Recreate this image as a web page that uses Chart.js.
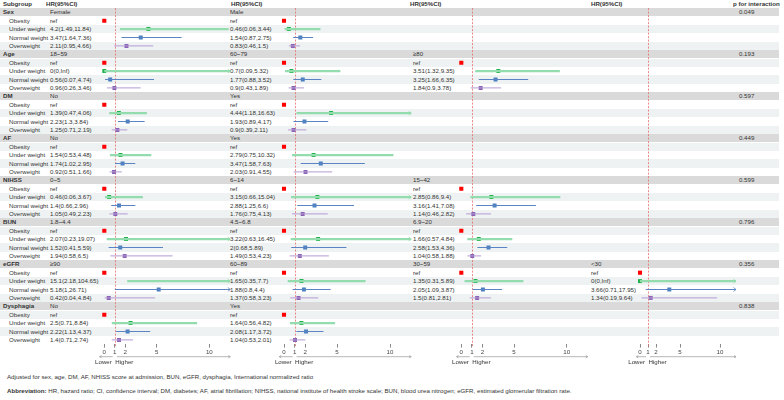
<!DOCTYPE html>
<html>
<head>
<meta charset="utf-8">
<script src="https://cdn.jsdelivr.net/npm/chart.js@4.4.1/dist/chart.umd.min.js"></script>
<style>
  body { margin: 0; width: 784px; height: 400px; position: relative; overflow: hidden; background: #fff;
         font-family: "Liberation Sans", Arial, sans-serif; color: #333; }
  #tbl { position: absolute; left: 0; top: 0; width: 784px; height: 400px; }
  .band { position: absolute; left: 0; width: 779px; height: 8.4px; }
  .t { position: absolute; font-size: 6.15px; line-height: 8px; height: 8px; white-space: nowrap; }
  .b { font-weight: bold; }
  canvas { position: absolute; left: 0; top: 0; pointer-events: none; }
</style>
</head>
<body>
<div id="tbl"></div>
<canvas id="p1" width="784" height="400"></canvas>
<canvas id="p2" width="784" height="400"></canvas>
<canvas id="p3" width="784" height="400"></canvas>
<canvas id="p4" width="784" height="400"></canvas>
<script>
// ---- data ----
const groups = ['Sex', 'Age', 'DM', 'AF', 'NIHSS', 'BUN', 'eGFR', 'Dysphagia'];
const subgroups = ['Obesity', 'Under weight', 'Normal weight', 'Overweight'];
const pInteraction = ['0.049', '0.193', '0.597', '0.449', '0.599', '0.796', '0.356', '0.838'];

const levels1 = ['Female', '18~59', 'No', 'No', '0~5', '1.8~4.4', '≥90', 'No'];
const levels2 = ['Male', '60~79', 'Yes', 'Yes', '6~14', '4.5~6.8', '60~89', 'Yes'];
const levels3 = [null, '≥80', null, null, '15~42', '6.9~20', '30~59', null];
const levels4 = [null, null, null, null, null, null, '<30', null];

// HR(95%CI) for Under weight, Normal weight, Overweight (Obesity = ref)
const hr1 = [
  ['4.2(1.49,11.84)', '3.47(1.64,7.36)', '2.11(0.95,4.66)'],
  ['0(0,Inf)', '0.56(0.07,4.74)', '0.96(0.26,3.46)'],
  ['1.39(0.47,4.06)', '2.23(1.3,3.84)', '1.25(0.71,2.19)'],
  ['1.54(0.53,4.48)', '1.74(1.02,2.95)', '0.92(0.51,1.66)'],
  ['0.46(0.06,3.67)', '1.4(0.66,2.96)', '1.05(0.49,2.23)'],
  ['2.07(0.23,19.07)', '1.52(0.41,5.59)', '1.94(0.58,6.5)'],
  ['15.1(2.18,104.65)', '5.18(1,26.71)', '0.42(0.04,4.84)'],
  ['2.5(0.71,8.84)', '2.22(1.13,4.37)', '1.4(0.71,2.74)']
];
const hr2 = [
  ['0.46(0.06,3.44)', '1.54(0.87,2.75)', '0.83(0.46,1.5)'],
  ['0.7(0.09,5.32)', '1.77(0.88,3.52)', '0.9(0.43,1.89)'],
  ['4.44(1.18,16.63)', '1.93(0.89,4.17)', '0.9(0.39,2.11)'],
  ['2.79(0.75,10.32)', '3.47(1.58,7.63)', '2.03(0.91,4.55)'],
  ['3.15(0.66,15.04)', '2.88(1.25,6.6)', '1.76(0.75,4.13)'],
  ['3.22(0.63,16.45)', '2(0.68,5.89)', '1.49(0.53,4.23)'],
  ['1.65(0.35,7.7)', '1.88(0.8,4.4)', '1.37(0.58,3.23)'],
  ['1.64(0.56,4.82)', '2.08(1.17,3.72)', '1.04(0.53,2.01)']
];
const hr3 = [
  null,
  ['3.51(1.32,9.35)', '3.25(1.66,6.35)', '1.84(0.9,3.78)'],
  null,
  null,
  ['2.85(0.86,9.4)', '3.16(1.41,7.08)', '1.14(0.46,2.82)'],
  ['1.66(0.57,4.84)', '2.58(1.53,4.36)', '1.04(0.58,1.88)'],
  ['1.35(0.31,5.89)', '2.05(1.09,3.87)', '1.5(0.81,2.81)'],
  null
];
const hr4 = [
  null, null, null, null, null, null,
  ['0(0,Inf)', '3.66(0.71,17.95)', '1.34(0.19,9.64)'],
  null
];
const xTicks = [0, 1, 2, 5, 10];

// ---- layout ----
const ROW0 = 12.3, ROWH = 8.4;
const rowY = i => ROW0 + ROWH * i;
const panels = [
  { id: 'p1', levels: levels1, hrs: hr1, zero: 104.3, unit: 10.5, textX: 50, headX: 46 },
  { id: 'p2', levels: levels2, hrs: hr2, zero: 284, unit: 10.6, textX: 230, headX: 231 },
  { id: 'p3', levels: levels3, hrs: hr3, zero: 461.3, unit: 10.54, textX: 413, headX: 410 },
  { id: 'p4', levels: levels4, hrs: hr4, zero: 640, unit: 8, textX: 591, headX: 591 }
];
const colors = [
  { line: '#93dcae', mark: '#1fb24a', w: 2.2 },
  { line: '#5a84c4', mark: '#4a7fc0', w: 1 },
  { line: '#b29bd4', mark: '#8a63b4', w: 1 }
];

function parseHR(s) {
  const m = s.match(/^([\d.]+)\(([\d.]+),([\d.]+|Inf)\)$/);
  return [parseFloat(m[1]), parseFloat(m[2]), m[3] === 'Inf' ? 1000 : parseFloat(m[3])];
}

// ---- table text ----
const tbl = document.getElementById('tbl');
function addText(txt, x, y, cls) {
  const d = document.createElement('div');
  d.className = 't' + (cls ? ' ' + cls : '');
  d.style.left = x + 'px';
  d.style.top = (y - 4) + 'px';
  d.textContent = txt;
  tbl.appendChild(d);
  return d;
}
for (let i = 0; i < 40; i++) {
  if (i % 5 !== 0 && i % 2 !== 0) continue;
  const b = document.createElement('div');
  b.className = 'band';
  b.style.top = (rowY(i) - ROWH / 2) + 'px';
  b.style.background = i % 5 === 0 ? '#dadada' : '#eff2f2';
  tbl.appendChild(b);
}
addText('Subgroup', 3, 3.9, 'b');
panels.forEach(p => addText('HR(95%CI)', p.headX, 3.9, 'b'));
addText('p for interaction', 733, 3.9, 'b');
groups.forEach((g, gi) => {
  const base = gi * 5;
  addText(g, 3, rowY(base), 'b');
  addText(pInteraction[gi], 739, rowY(base));
  subgroups.forEach((s, k) => addText(s, 9, rowY(base + 1 + k)));
  panels.forEach(p => {
    if (!p.levels[gi]) return;
    addText(p.levels[gi], p.textX, rowY(base));
    addText('ref', p.textX, rowY(base + 1));
    p.hrs[gi].forEach((s, k) => addText(s, p.textX, rowY(base + 2 + k)));
  });
});
addText('Adjusted for sex, age, DM, AF, NHISS score at admission, BUN, eGFR, dysphagia, International normalized ratio', 7, 377);
const ab = addText('', 7, 390.7);
ab.innerHTML = '<b>Abbreviation:</b> HR, hazard ratio; CI, confidence interval; DM, diabetes; AF, atrial fibrillation; NIHSS, national institute of health stroke scale; BUN, blood urea nitrogen; eGFR, estimated glomerular filtration rate.';

// ---- plugins ----
const refLine = {
  id: 'refLine',
  beforeDatasetsDraw(chart) {
    const { ctx, chartArea, scales: { x } } = chart;
    const px = Math.round(x.getPixelForValue(1)) + 0.5;
    ctx.save();
    ctx.strokeStyle = '#e36b6b';
    ctx.lineWidth = 0.8;
    ctx.setLineDash([2, 1.5]);
    ctx.beginPath();
    ctx.moveTo(px, chartArea.top);
    ctx.lineTo(px, chartArea.bottom + 2);
    ctx.stroke();
    ctx.restore();
  }
};
const arrows = {
  id: 'arrows',
  afterDatasetsDraw(chart) {
    const { ctx, scales: { x, y } } = chart;
    const right = x.getPixelForValue(x.max);
    chart.data.datasets.forEach(ds => {
      if (!ds.showLine) return;
      for (let i = 0; i + 1 < ds.data.length; i += 3) {
        if (ds.data[i + 1].x <= x.max) continue;
        const py = y.getPixelForValue(ds.data[i].y);
        ctx.save();
        ctx.strokeStyle = ds.borderColor;
        ctx.lineWidth = 0.8;
        ctx.beginPath();
        ctx.moveTo(right - 2.5, py - 2);
        ctx.lineTo(right, py);
        ctx.lineTo(right - 2.5, py + 2);
        ctx.stroke();
        ctx.restore();
      }
    });
  },
  afterDraw(chart) {
    const { ctx, chartArea, scales: { x } } = chart;
    const p1 = x.getPixelForValue(1);
    const left = x.getPixelForValue(-0.45);
    const right = x.getPixelForValue(12);
    const ay = chartArea.bottom + 12.6;
    ctx.save();
    ctx.strokeStyle = '#9a9a9a';
    ctx.lineWidth = 0.7;
    ctx.beginPath();
    ctx.moveTo(p1 - 2, ay); ctx.lineTo(left, ay);
    ctx.moveTo(left + 2, ay - 1.2); ctx.lineTo(left, ay); ctx.lineTo(left + 2, ay + 1.2);
    ctx.moveTo(p1 + 2, ay); ctx.lineTo(right, ay);
    ctx.moveTo(right - 2, ay - 1.2); ctx.lineTo(right, ay); ctx.lineTo(right - 2, ay + 1.2);
    ctx.stroke();
    ctx.fillStyle = '#333';
    ctx.font = '6.15px "Liberation Sans", Arial, sans-serif';
    ctx.textBaseline = 'middle';
    ctx.textAlign = 'right';
    ctx.fillText('Lower', p1 - 3, ay + 5.5);
    ctx.textAlign = 'left';
    ctx.fillText('Higher', p1 + 0.5, ay + 5.5);
    ctx.restore();
  }
};

// ---- charts ----
panels.forEach(p => {
  const segs = [[], [], []], marks = [[], [], []], refs = [];
  p.hrs.forEach((g, gi) => {
    if (!g) return;
    const base = gi * 5;
    refs.push({ x: 0, y: base + 1 });
    g.forEach((s, k) => {
      const [hr, lo, hi] = parseHR(s);
      const r = base + 2 + k;
      segs[k].push({ x: lo, y: r }, { x: hi, y: r }, { x: hi, y: null });
      marks[k].push({ x: hr, y: r });
    });
  });
  const datasets = [];
  colors.forEach((c, k) => datasets.push({
    data: segs[k], showLine: true, borderColor: c.line, borderWidth: c.w,
    pointRadius: 0, clip: { left: 0, right: 0, top: 5, bottom: 5 }
  }));
  colors.forEach((c, k) => datasets.push({
    data: marks[k], pointStyle: 'rect', pointRadius: 2.8, backgroundColor: c.mark,
    borderWidth: 0, clip: { left: 0, right: 0, top: 5, bottom: 5 }
  }));
  datasets.push({ data: refs, pointStyle: 'rect', pointRadius: 2.9, backgroundColor: '#ff0000', borderWidth: 0 });

  new Chart(document.getElementById(p.id), {
    type: 'scatter',
    data: { datasets },
    options: {
      responsive: false,
      animation: false,
      devicePixelRatio: 1,
      layout: {
        padding: {
          left: p.zero - 0.5 * p.unit,
          right: 784 - (p.zero + 12 * p.unit),
          top: rowY(0) - ROWH / 2,
          bottom: 400 - (rowY(39) + ROWH / 2) - 14
        }
      },
      plugins: { legend: { display: false }, tooltip: { enabled: false } },
      scales: {
        x: {
          type: 'linear', min: -0.5, max: 12,
          afterBuildTicks: s => { s.ticks = xTicks.map(v => ({ value: v })); },
          afterFit: s => { s.height = 14; },
          grid: { drawOnChartArea: false, drawTicks: true, tickLength: 3.5, color: '#8a8a8a' },
          border: { display: false },
          ticks: { font: { size: 6.15, family: '"Liberation Sans", Arial, sans-serif' }, color: '#444', padding: 1.5 }
        },
        y: { type: 'linear', min: -0.5, max: 39.5, reverse: true, display: false }
      }
    },
    plugins: [refLine, arrows]
  });
});
</script>
</body>
</html>
